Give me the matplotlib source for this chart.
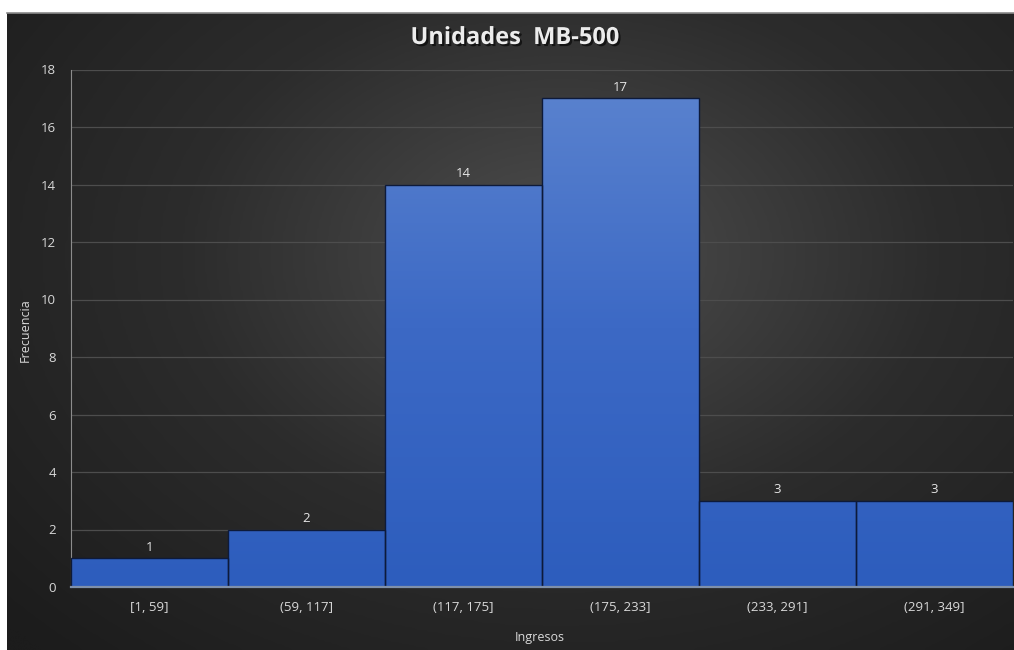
import numpy as np
import matplotlib.pyplot as plt
import matplotlib.patheffects as pe
from matplotlib.colors import LinearSegmentedColormap

plt.rcParams['font.family'] = ['Open Sans', 'DejaVu Sans']

intervalos = ['[1, 59]', '(59, 117]', '(117, 175]', '(175, 233]', '(233, 291]', '(291, 349]']
frecuencia = [1, 2, 14, 17, 3, 3]
y_ticks = [0, 2, 4, 6, 8, 10, 12, 14, 16, 18]

W, H = 1014, 650
fig = plt.figure(figsize=(W / 100, H / 100), dpi=100, facecolor='white')

# dark panel with radial shading
bg = fig.add_axes([7 / W, 0, 1 - 7 / W, 1 - 13 / H], zorder=0)
gx, gy = np.meshgrid(np.linspace(0, 1, 400), np.linspace(0, 1, 260))
r = np.sqrt(((gx - 0.55) / 0.75) ** 2 + ((gy - 0.62) / 0.85) ** 2)
shade = np.clip(1 - r, 0, 1)
bg_cmap = LinearSegmentedColormap.from_list('bg', ['#1c1c1c', '#2c2c2c', '#4e4e4e'])
bg.imshow(shade, cmap=bg_cmap, aspect='auto', origin='lower', extent=(0, 1, 0, 1),
          interpolation='bicubic')
bg.set_xlim(0, 1)
bg.set_ylim(0, 1)
bg.axis('off')
bg.plot([0, 1], [1, 1], color='#8a8a8a', lw=1.2, transform=bg.transAxes, clip_on=False)

ax = fig.add_axes([71 / W, 1 - 587 / H, 942 / W, 517.5 / H], zorder=1)
ax.patch.set_alpha(0)

x = np.arange(len(frecuencia))
bars = ax.bar(x, frecuencia, width=1.0, facecolor='none', edgecolor='#0d1a3a',
              linewidth=1.0, zorder=3)

# vertical blue gradient shared by all bars
bar_cmap = LinearSegmentedColormap.from_list('azul', ['#2d5dbd', '#3c69c5', '#5c84cf'])
grad = np.linspace(0, 1, 256).reshape(-1, 1)
for b in bars:
    x0 = b.get_x()
    img = ax.imshow(grad, cmap=bar_cmap, aspect='auto', origin='lower',
                    extent=(x0, x0 + b.get_width(), 0, 18), zorder=2)
    img.set_clip_path(b)

for xi, v in zip(x, frecuencia):
    ax.text(xi, v + 0.15, str(v), ha='center', va='bottom', color='#e6e6e6', fontsize=9.5)

ax.set_xlim(-0.5, len(frecuencia) - 0.5)
ax.set_ylim(0, 18)
ax.set_yticks(y_ticks)
ax.set_xticks(x)
ax.set_xticklabels(intervalos)
ax.tick_params(axis='both', length=0, colors='#d9d9d9', labelsize=9.5)
ax.tick_params(axis='y', pad=11)
ax.tick_params(axis='x', pad=10)
ax.grid(axis='y', color='#4d4d4d', linewidth=0.9, zorder=1)
ax.set_axisbelow(True)

for side in ['top', 'right']:
    ax.spines[side].set_visible(False)
ax.spines['left'].set_color('#8c8c8c')
ax.spines['bottom'].set_color('#7f90aa')
ax.spines['bottom'].set_linewidth(1.6)
ax.spines['bottom'].set_zorder(4)

fig.text(25 / W, 1 - 330 / H, 'Frecuencia', rotation=90, ha='center', va='center',
         color='#d9d9d9', fontsize=9)
fig.text(540 / W, 1 - 637 / H, 'Ingresos', ha='center', va='center',
         color='#d9d9d9', fontsize=9)

title = fig.text(515 / W, 1 - 38 / H, 'Unidades  MB-500', ha='center', va='center',
                 color='#ececec', fontsize=17, fontweight='bold')
title.set_path_effects([pe.withSimplePatchShadow(offset=(1.5, -1.5), shadow_rgbFace='black',
                                                 alpha=0.6)])

fig.savefig('out.png', dpi=100, facecolor='white')
